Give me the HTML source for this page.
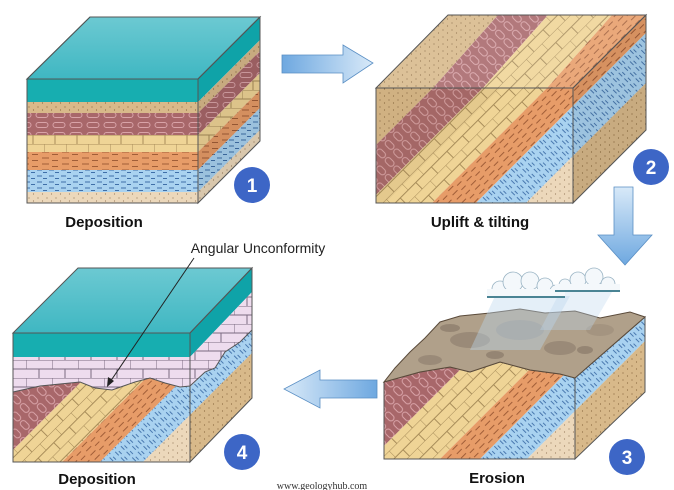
<!DOCTYPE html>
<html><head><meta charset="utf-8"><style>
html,body{margin:0;padding:0;background:#fff;overflow:hidden;width:674px;height:490px;}
svg{display:block;}
</style></head><body>
<svg width="674" height="490" viewBox="0 0 674 490" xmlns="http://www.w3.org/2000/svg">
<defs>
 <pattern id="sand" width="9" height="7" patternUnits="userSpaceOnUse">
  <rect width="9" height="7" fill="#d8b98a"/><circle cx="2" cy="2" r="0.6" fill="#8a6a40"/><circle cx="6.5" cy="5" r="0.6" fill="#8a6a40"/>
 </pattern>
 <pattern id="lsand" width="9" height="7" patternUnits="userSpaceOnUse">
  <rect width="9" height="7" fill="#ecd8bb"/><circle cx="2" cy="2" r="0.6" fill="#9a8060"/><circle cx="6.5" cy="5" r="0.6" fill="#9a8060"/>
 </pattern>
 <pattern id="red" width="17" height="10" patternUnits="userSpaceOnUse">
  <rect width="17" height="10" fill="#a8676a"/><rect x="2" y="2.5" width="12" height="5" rx="2.5" fill="none" stroke="#d9a3a8" stroke-width="1"/>
 </pattern>
 <pattern id="redT" width="12" height="12" patternUnits="userSpaceOnUse" patternTransform="rotate(-45)">
  <rect width="12" height="12" fill="#a8676a"/><rect x="2" y="1" width="6" height="10" rx="3" fill="none" stroke="#d9a3a8" stroke-width="1"/>
 </pattern>
 <pattern id="brick" width="22" height="18" patternUnits="userSpaceOnUse">
  <rect width="22" height="18" fill="#efd496"/><path d="M0 0H22M0 9H22M0 0V9M11 9V18" stroke="#a88d5a" stroke-width="1" fill="none"/>
 </pattern>
 <pattern id="brickT" width="22" height="18" patternUnits="userSpaceOnUse" patternTransform="rotate(-45)">
  <rect width="22" height="18" fill="#efd496"/><path d="M0 0H22M0 9H22M0 0V9M11 9V18" stroke="#a88d5a" stroke-width="1" fill="none"/>
 </pattern>
 <pattern id="pink" width="26" height="18" patternUnits="userSpaceOnUse">
  <rect width="26" height="18" fill="#eedcee"/><path d="M0 0H26M0 9H26M0 0V9M13 9V18" stroke="#7a6a80" stroke-width="1" fill="none"/>
 </pattern>
 <pattern id="orange" width="20" height="6" patternUnits="userSpaceOnUse">
  <rect width="20" height="6" fill="#e79c68"/><path d="M2 2H9M12 4.5H18" stroke="#8a4a28" stroke-width="0.8"/>
 </pattern>
 <pattern id="orangeT" width="20" height="6" patternUnits="userSpaceOnUse" patternTransform="rotate(-45)">
  <rect width="20" height="6" fill="#e79c68"/><path d="M2 2H9M12 4.5H18" stroke="#8a4a28" stroke-width="0.8"/>
 </pattern>
 <pattern id="blue" width="12" height="6" patternUnits="userSpaceOnUse">
  <rect width="12" height="6" fill="#a9d2f0"/><path d="M1 2H6M7 4.5H11" stroke="#3f6fa8" stroke-width="1"/>
 </pattern>
 <pattern id="blueT" width="8" height="8" patternUnits="userSpaceOnUse" patternTransform="rotate(-45)">
  <rect width="8" height="8" fill="#a9d2f0"/><path d="M2 1V6M5 3V7" stroke="#3f6fa8" stroke-width="0.9"/>
 </pattern>
 <linearGradient id="water" x1="0" y1="0" x2="0" y2="1"><stop offset="0" stop-color="#6cc9d2"/><stop offset="1" stop-color="#3fb7c2"/></linearGradient>
 <linearGradient id="arrH" x1="0" y1="0" x2="1" y2="0"><stop offset="0" stop-color="#6ea8e0"/><stop offset="1" stop-color="#d8e9f8"/></linearGradient>
 <linearGradient id="arrL" x1="1" y1="0" x2="0" y2="0"><stop offset="0" stop-color="#6ea8e0"/><stop offset="1" stop-color="#d8e9f8"/></linearGradient>
 <linearGradient id="arrV" x1="0" y1="0" x2="0" y2="1"><stop offset="0" stop-color="#d8e9f8"/><stop offset="1" stop-color="#6ea8e0"/></linearGradient>
 <clipPath id="c1s"><polygon points="198,102 260,40 260,141 198,203"/></clipPath>
 <clipPath id="c2f"><rect x="376" y="88" width="197" height="115"/></clipPath>
 <clipPath id="c2s"><polygon points="573,88 646,15 646,130 573,203"/></clipPath>
 <clipPath id="c2t"><polygon points="448,15 646,15 573,88 376,88"/></clipPath>
 <clipPath id="c3f"><polygon points="384,382 420,372 450,367 470,372 500,362 530,370 560,374 575,378 575,459 384,459"/></clipPath>
 <clipPath id="c3s"><polygon points="575,378 645,317 645,392 575,459"/></clipPath>
 <clipPath id="c4f"><polygon points="13,392 40,386 80,382 95,388 112,390 135,382 150,378 165,383 180,387 190,386 190,462 13,462"/></clipPath>
 <clipPath id="c4s"><polygon points="190,387 205,372 215,368 225,352 240,342 252,330 252,398 190,462"/></clipPath>
</defs>

<polygon points="90,17 260,17 198,79 27,79" fill="url(#water)" stroke="#3a6a6a" stroke-width="1"/>
<rect x="27" y="79" width="171" height="23" fill="#17aeb0"/>
<polygon points="198,79 260,17 260,40 198,102" fill="#0fa3a8"/>
<rect x="27" y="102" width="171" height="11" fill="url(#sand)"/>
<rect x="27" y="113" width="171" height="22" fill="url(#red)"/>
<rect x="27" y="135" width="171" height="17" fill="url(#brick)"/>
<rect x="27" y="152" width="171" height="18" fill="url(#orange)"/>
<rect x="27" y="170" width="171" height="22" fill="url(#blue)"/>
<rect x="27" y="192" width="171" height="11" fill="url(#lsand)"/>
<g clip-path="url(#c1s)">
 <polygon points="300,0 311,0 -289,600 -300,600" fill="url(#sand)"/>
 <polygon points="311,0 333,0 -267,600 -289,600" fill="url(#red)"/>
 <polygon points="333,0 350,0 -250,600 -267,600" fill="url(#brick)"/>
 <polygon points="350,0 368,0 -232,600 -250,600" fill="url(#orange)"/>
 <polygon points="368,0 390,0 -210,600 -232,600" fill="url(#blue)"/>
 <polygon points="390,0 700,0 100,600 -210,600" fill="url(#lsand)"/>
 <rect x="190" y="0" width="80" height="220" fill="#000" opacity="0.08"/>
</g>
<polygon points="27,79 198,79 198,203 27,203" fill="none" stroke="#555" stroke-width="1"/>
<polygon points="198,79 260,17 260,141 198,203" fill="none" stroke="#555" stroke-width="1"/>
<polygon points="90,17 260,17 198,79 27,79" fill="none" stroke="#555" stroke-width="1"/>

<g clip-path="url(#c2t)">
 <polygon points="300,88 433,88 498,15 365,15" fill="url(#sand)"/>
 <polygon points="433,88 483,88 548,15 498,15" fill="url(#redT)"/>
 <polygon points="483,88 547,88 612,15 548,15" fill="url(#brickT)"/>
 <polygon points="547,88 700,88 765,15 612,15" fill="url(#orangeT)"/>
 <rect x="370" y="10" width="290" height="80" fill="#fff" opacity="0.12"/>
</g>
<g clip-path="url(#c2f)">
 <polygon points="0,0 521,0 -79,600 -600,600" fill="url(#sand)"/>
 <polygon points="521,0 571,0 -29,600 -79,600" fill="url(#redT)"/>
 <polygon points="571,0 635,0 35,600 -29,600" fill="url(#brickT)"/>
 <polygon points="635,0 679,0 79,600 35,600" fill="url(#orangeT)"/>
 <polygon points="679,0 729,0 129,600 79,600" fill="url(#blueT)"/>
 <polygon points="729,0 1000,0 400,600 129,600" fill="url(#lsand)"/>
 <polygon points="376,88 500,88 376,212" fill="#8a6a40" opacity="0.1"/>
</g>
<g clip-path="url(#c2s)">
 <polygon points="635,0 679,0 79,600 35,600" fill="url(#orangeT)"/>
 <polygon points="679,0 729,0 129,600 79,600" fill="url(#blueT)"/>
 <polygon points="729,0 1000,0 400,600 129,600" fill="url(#sand)"/>
 <rect x="570" y="0" width="80" height="210" fill="#000" opacity="0.07"/>
</g>
<rect x="376" y="88" width="197" height="115" fill="none" stroke="#555"/>
<polygon points="448,15 646,15 573,88 376,88" fill="none" stroke="#555"/>
<polygon points="573,88 646,15 646,130 573,203" fill="none" stroke="#555"/>

<g clip-path="url(#c3f)">
 <polygon points="0,0 830,0 230,600 -600,600" fill="url(#redT)"/>
 <polygon points="830,0 899,0 299,600 230,600" fill="url(#brickT)"/>
 <polygon points="899,0 939,0 339,600 299,600" fill="url(#orangeT)"/>
 <polygon points="939,0 986,0 386,600 339,600" fill="url(#blueT)"/>
 <polygon points="986,0 1300,0 700,600 386,600" fill="url(#lsand)"/>
</g>
<g clip-path="url(#c3s)">
 <polygon points="900,0 986,0 386,600 300,600" fill="url(#blueT)"/>
 <polygon points="986,0 1300,0 700,600 386,600" fill="url(#sand)"/>
</g>
<polygon points="384,382 420,372 450,367 470,372 500,362 530,370 560,374 575,378 575,459 384,459" fill="none" stroke="#555"/>
<polygon points="575,378 645,317 645,392 575,459" fill="none" stroke="#555"/>
<polygon points="384,382 420,372 450,367 470,372 500,362 530,370 560,374 575,378 645,317 630,312 600,318 575,311 545,313 520,309 490,313 460,316 440,322 425,338 410,352 395,368" fill="#b0a08a" stroke="#5a4a3a" stroke-width="1"/>
<g opacity="0.3">
 <ellipse cx="470" cy="340" rx="20" ry="8" fill="#6a5a50"/>
 <ellipse cx="520" cy="330" rx="24" ry="10" fill="#7a7a86"/>
 <ellipse cx="560" cy="348" rx="16" ry="7" fill="#6a5a50"/>
 <ellipse cx="430" cy="360" rx="12" ry="5" fill="#6a5a50"/>
 <ellipse cx="600" cy="330" rx="14" ry="6" fill="#8a7a6a"/>
 <ellipse cx="495" cy="355" rx="9" ry="4" fill="#5a4a40"/>
 <ellipse cx="450" cy="328" rx="10" ry="4" fill="#5a4a40"/>
 <ellipse cx="585" cy="350" rx="8" ry="4" fill="#5a4a40"/>
</g>
<polygon points="495,296 570,296 540,350 470,350" fill="#bcd8ee" opacity="0.4"/>
<polygon points="560,292 612,292 590,330 540,330" fill="#bcd8ee" opacity="0.35"/>
<g fill="#f4f8fb" stroke="#9ab4c4" stroke-width="0.8">
 <circle cx="500" cy="289" r="8"/><circle cx="513" cy="282" r="10"/><circle cx="530" cy="281" r="9"/><circle cx="545" cy="286" r="8"/><circle cx="556" cy="291" r="6"/>
 <circle cx="565" cy="285" r="6"/><circle cx="578" cy="280" r="8"/><circle cx="594" cy="277" r="9"/><circle cx="608" cy="284" r="7"/>
</g>
<rect x="487" y="289" width="78" height="8" fill="#f4f8fb"/>
<rect x="555" y="284" width="65" height="7" fill="#f4f8fb"/>
<path d="M487 297H565M555 291H620" stroke="#4a8494" stroke-width="2"/>

<polygon points="78,268 252,268 190,333 13,333" fill="url(#water)"/>
<rect x="13" y="333" width="177" height="24" fill="#17aeb0"/>
<polygon points="190,333 252,268 252,292 190,357" fill="#0fa3a8"/>
<rect x="13" y="357" width="177" height="40" fill="url(#pink)"/>
<polygon points="190,357 252,292 252,340 190,400" fill="url(#pink)"/>
<g clip-path="url(#c4f)">
 <polygon points="0,0 463,0 -137,600 -600,600" fill="url(#redT)"/>
 <polygon points="463,0 524,0 -76,600 -137,600" fill="url(#brickT)"/>
 <polygon points="524,0 562,0 -38,600 -76,600" fill="url(#orangeT)"/>
 <polygon points="562,0 605,0 5,600 -38,600" fill="url(#blueT)"/>
 <polygon points="605,0 900,0 300,600 5,600" fill="url(#lsand)"/>
</g>
<g clip-path="url(#c4s)">
 <polygon points="500,0 605,0 5,600 -100,600" fill="url(#blueT)"/>
 <polygon points="605,0 900,0 300,600 5,600" fill="url(#sand)"/>
</g>
<polyline points="13,392 40,386 80,382 95,388 112,390 135,382 150,378 165,383 180,387 190,386 205,372 215,368 225,352 240,342 252,330" fill="none" stroke="#555"/>
<rect x="13" y="333" width="177" height="129" fill="none" stroke="#555"/>
<polygon points="190,333 252,268 252,398 190,462" fill="none" stroke="#555"/>
<polygon points="78,268 252,268 190,333 13,333" fill="none" stroke="#555"/>

<polygon points="282,55 343,55 343,45 373,63 343,83 343,73 282,73" fill="url(#arrH)" stroke="#5a8fc4" stroke-width="0.8"/>
<polygon points="614,187 633,187 633,235 652,235 625,265 598,235 614,235" fill="url(#arrV)" stroke="#5a8fc4" stroke-width="0.8"/>
<polygon points="377,380 320,380 320,370 284,389 320,408 320,398 377,398" fill="url(#arrL)" stroke="#5a8fc4" stroke-width="0.8"/>

<g font-family="Liberation Sans, sans-serif" font-weight="bold" font-size="19" fill="#fff" text-anchor="middle">
 <circle cx="252" cy="185" r="18" fill="#3d66c6"/><text x="252" y="192">1</text>
 <circle cx="651" cy="167" r="18" fill="#3d66c6"/><text x="651" y="174">2</text>
 <circle cx="627" cy="457" r="18" fill="#3d66c6"/><text x="627" y="464">3</text>
 <circle cx="242" cy="452" r="18" fill="#3d66c6"/><text x="242" y="459">4</text>
</g>

<g font-family="Liberation Sans, sans-serif" font-weight="bold" font-size="15" fill="#111" text-anchor="middle">
 <text x="104" y="227">Deposition</text>
 <text x="480" y="227">Uplift &amp; tilting</text>
 <text x="97" y="484">Deposition</text>
 <text x="497" y="483">Erosion</text>
</g>
<text x="258" y="253" font-family="Liberation Sans, sans-serif" font-size="14" fill="#222" text-anchor="middle">Angular Unconformity</text>
<line x1="194" y1="258" x2="110" y2="382" stroke="#222" stroke-width="1"/>
<polygon points="107,387 108,377 114,381" fill="#222"/>
<text x="322" y="489" font-family="Liberation Serif, serif" font-size="10" fill="#333" text-anchor="middle">www.geologyhub.com</text>
</svg>
</body></html>
